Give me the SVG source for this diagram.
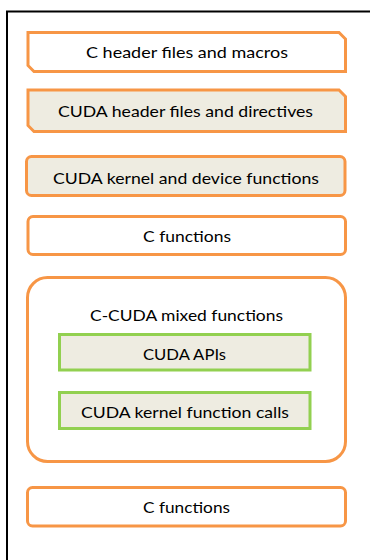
<svg xmlns="http://www.w3.org/2000/svg" width="370" height="560" viewBox="0 0 370 560">
<style>
.o{fill:#ffffff;stroke:#F79646;stroke-width:3}
.ob{fill:#EEECE1;stroke:#F79646;stroke-width:3}
.g{fill:#EEECE1;stroke:#92D050;stroke-width:3}
text{font-family:Lato,"Liberation Sans",sans-serif;font-size:16px;fill:#000000}
</style>
<rect width="370" height="560" fill="#ffffff"/>
<path d="M7 560 V11.5 H370" fill="none" stroke="#000000" stroke-width="2"/>
<g id="c-header">
<path class="o" d="M28 32.5 H339 L345.5 39 V71.5 H34 L28 65.5 Z"/>
<text x="86" y="58" textLength="202" lengthAdjust="spacingAndGlyphs">C header files and macros</text>
</g>
<g id="cuda-header">
<path class="ob" d="M28 90 H339 L345.5 96.5 V131.5 H34 L28 125.5 Z"/>
<text x="58" y="117" textLength="255" lengthAdjust="spacingAndGlyphs">CUDA header files and directives</text>
</g>
<g id="cuda-kernel">
<rect class="ob" x="26.5" y="156.5" width="318.5" height="39" rx="5"/>
<text x="53" y="184" textLength="266" lengthAdjust="spacingAndGlyphs">CUDA kernel and device functions</text>
</g>
<g id="c-functions-1">
<rect class="o" x="28" y="216.5" width="317.5" height="38" rx="5"/>
<text x="143" y="242" textLength="88" lengthAdjust="spacingAndGlyphs">C functions</text>
</g>
<g id="mixed">
<rect class="o" x="27.5" y="277.5" width="318" height="184" rx="20"/>
<text x="90" y="320.5" textLength="193" lengthAdjust="spacingAndGlyphs">C-CUDA mixed functions</text>
</g>
<g id="cuda-apis">
<rect class="g" x="59.5" y="334.5" width="250.5" height="35.5"/>
<text x="143" y="360" textLength="83" lengthAdjust="spacingAndGlyphs">CUDA APIs</text>
</g>
<g id="cuda-kernel-calls">
<rect class="g" x="59.5" y="392.5" width="250.5" height="36"/>
<text x="81" y="417.5" textLength="208" lengthAdjust="spacingAndGlyphs">CUDA kernel function calls</text>
</g>
<g id="c-functions-2">
<rect class="o" x="27.5" y="487.5" width="318" height="38.5" rx="5"/>
<text x="143" y="513" textLength="87" lengthAdjust="spacingAndGlyphs">C functions</text>
</g>
<g id="connectors"></g>
</svg>
